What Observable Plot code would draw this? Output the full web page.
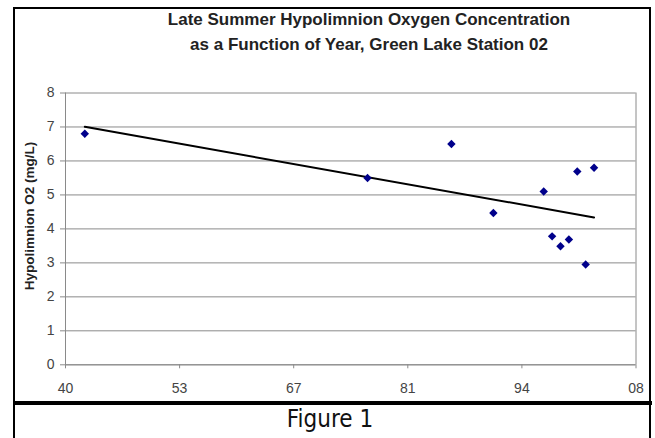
<!DOCTYPE html>
<html>
<head>
<meta charset="utf-8">
<script src="https://cdn.jsdelivr.net/npm/d3@7"></script>
<script src="https://cdn.jsdelivr.net/npm/@observablehq/plot@0.6"></script>
<style>
  html, body { margin: 0; padding: 0; background: #fff; }
  body { width: 655px; height: 438px; position: relative; overflow: hidden; font-family: "Liberation Sans", Arial, sans-serif; }
  #chart { position: absolute; left: 0; top: 0; }
  #chart svg text { font-size: 14px; }
  .frame { position: absolute; left: 12.5px; top: 6.5px; width: 634.5px; height: 460px;
           border-left: 2.5px solid #000; border-right: 2.5px solid #000; border-top: 2px solid #000; box-sizing: content-box; }
  .divider { position: absolute; left: 12.5px; top: 401px; width: 639.5px; height: 4px; background: #000; }
  .title { position: absolute; left: 69px; width: 600px; text-align: center; font-weight: bold; font-size: 17px; color: #222; line-height: 1; }
  .caption { position: absolute; left: 230px; width: 200px; top: 405px; text-align: center;
             font-family: "Liberation Sans Narrow", "DejaVu Sans Condensed", "Liberation Sans", sans-serif; font-size: 24px; color: #111; }
  .ylabel { position: absolute; left: 29px; top: 216px; transform: translate(-50%, -50%) rotate(-90deg);
            white-space: nowrap; font-weight: bold; font-size: 13.5px; color: #222; }
</style>
</head>
<body>
<div id="chart"></div>
<div class="frame"></div>
<div class="divider"></div>
<div class="title" style="top: 10.5px;">Late Summer Hypolimnion Oxygen Concentration</div>
<div class="title" style="top: 36px;">as a Function of Year, Green Lake Station 02</div>
<div class="ylabel">Hypolimnion O2 (mg/L)</div>
<div class="caption">Figure 1</div>
<script>
// Data
const years  = [1942.3, 1976, 1986, 1991, 1997, 1998, 1999, 2000, 2001, 2002, 2003];
const oxygen = [6.8, 5.5, 6.5, 4.47, 5.1, 3.78, 3.49, 3.69, 5.69, 2.95, 5.8];

// Axis ticks
const xTickValues = [1940, 1953.6, 1967.2, 1980.8, 1994.4, 2008];
const xTickLabels = ["40", "53", "67", "81", "94", "08"];
const yTickValues = [0, 1, 2, 3, 4, 5, 6, 7, 8];

const data = years.map((yr, i) => ({year: yr, o2: oxygen[i]}));
const fmtX = d => xTickLabels[xTickValues.indexOf(d)];

const chart = Plot.plot({
  width: 655,
  height: 438,
  marginLeft: 65,
  marginRight: 19.5,
  marginTop: 92.5,
  marginBottom: 73.7,
  style: {fontFamily: "'Liberation Sans', Arial, sans-serif", fontSize: "14px", background: "transparent", color: "#333"},
  x: {domain: [1940, 2008], ticks: xTickValues, tickFormat: fmtX, label: null},
  y: {domain: [0, 8], ticks: yTickValues, label: null},
  marks: [
    Plot.gridY(yTickValues, {stroke: "#8a8a8a", strokeOpacity: 1, strokeWidth: 1}),
    Plot.ruleX([2008], {stroke: "#8a8a8a", strokeWidth: 1}),
    Plot.ruleX([1940], {stroke: "#8a8a8a", strokeWidth: 1}),
    Plot.ruleY([0], {stroke: "#8a8a8a", strokeWidth: 1}),
    Plot.axisY({ticks: yTickValues, tickSize: 5, tickPadding: 6, stroke: "#8a8a8a", fill: "#444", fontSize: 14, label: null}),
    Plot.axisX({ticks: xTickValues, tickFormat: fmtX, tickSize: 4, tickPadding: 14, stroke: "#8a8a8a", fill: "#444", fontSize: 14, label: null}),
    Plot.linearRegressionY(data, {x: "year", y: "o2", ci: 0, stroke: "#000", strokeWidth: 2}),
    Plot.dot(data, {x: "year", y: "o2", symbol: "diamond2", r: 3.8, fill: "#00008b", stroke: "none"})
  ]
});
document.getElementById("chart").appendChild(chart);
</script>
</body>
</html>
